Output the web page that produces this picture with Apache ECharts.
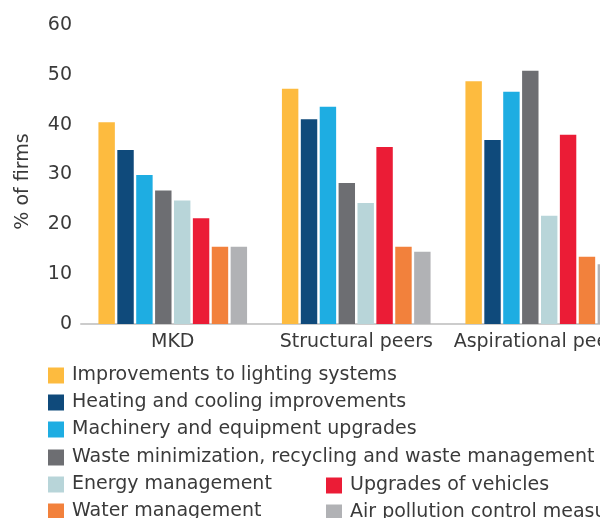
<!DOCTYPE html>
<html><head><meta charset="utf-8">
<script src="https://cdn.jsdelivr.net/npm/echarts@6/dist/echarts.min.js"></script>
<style>html,body{margin:0;padding:0;overflow:hidden;background:#fff;width:600px;height:518px}#c{width:640px;height:518px}</style>
</head><body><div id="c"></div>
<script>
const categories = ['MKD', 'Structural peers', 'Aspirational peers'];
const seriesNames = [
  'Improvements to lighting systems',
  'Heating and cooling improvements',
  'Machinery and equipment upgrades',
  'Waste minimization, recycling and waste management',
  'Energy management',
  'Upgrades of vehicles',
  'Water management',
  'Air pollution control measures'
];
const lighting = [40.5, 47.2, 48.7];
const heating = [34.9, 41.1, 36.9];
const machinery = [29.9, 43.6, 46.6];
const waste = [26.8, 28.3, 50.8];
const energy = [24.8, 24.3, 21.7];
const vehicles = [21.2, 35.5, 38.0];
const water = [15.5, 15.5, 13.5];
const air = [15.5, 14.5, 12.0];
const yTicks = [0, 10, 20, 30, 40, 50, 60];
const colors = ['#FDBB3F', '#0F4A7B', '#1EADE2', '#6D6E72', '#B8D5D9', '#EB1C36', '#F2813C', '#B1B2B5'];
const values = [lighting, heating, machinery, waste, energy, vehicles, water, air];
const font = 'DejaVu Sans';
const chart = echarts.init(document.getElementById('c'));
const legendText = {color: '#3a3a3a', fontSize: 19, fontFamily: font, padding: [0, 0, 0, 3]};
// legend placement: [series index, left, top]
const legendPos = [[0, 48, 366], [1, 48, 393], [2, 48, 420], [3, 48, 448], [4, 48, 475], [6, 48, 502], [5, 326, 476], [7, 326, 503]];
chart.setOption({
  animation: false,
  color: colors,
  grid: {left: 81, right: 8.5, top: 25, bottom: 194, containLabel: false, outerBoundsMode: 'none'},
  legend: legendPos.map(p => ({
    left: p[1], top: p[2], padding: 0, itemWidth: 16, itemHeight: 16, itemGap: 0,
    icon: 'rect', textStyle: legendText, selectedMode: false, data: [seriesNames[p[0]]]
  })),
  xAxis: {type: 'category', data: categories,
    axisLine: {lineStyle: {color: '#cccccc', width: 2}}, axisTick: {show: false},
    axisLabel: {color: '#3a3a3a', fontSize: 19, fontFamily: font, margin: 9, interval: 0}},
  yAxis: {type: 'value', min: yTicks[0], max: yTicks[yTicks.length - 1], interval: 10,
    name: '% of firms', nameLocation: 'middle', nameGap: 48, nameRotate: 90,
    nameTextStyle: {color: '#3a3a3a', fontSize: 19, fontFamily: font, padding: [0, 14, 0, 0]},
    axisLine: {show: false}, axisTick: {show: false}, splitLine: {show: false},
    axisLabel: {color: '#3a3a3a', fontSize: 19, fontFamily: font, margin: 9}},
  series: seriesNames.map((n, i) => ({
    name: n, type: 'bar', data: values[i], barGap: '15%', barCategoryGap: '19%'
  }))
});
</script></body></html>
